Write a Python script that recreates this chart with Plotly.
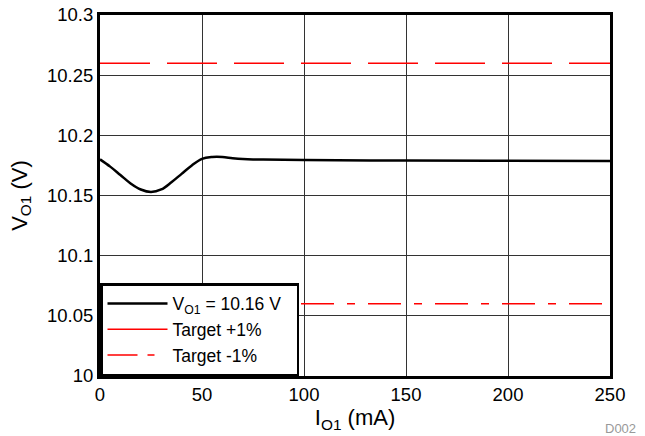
import plotly.graph_objects as go

# Data
current_ma = [0, 5, 10, 15, 20, 25, 30, 35, 40, 45, 50, 55, 60, 65, 70, 75, 80, 100, 150, 200, 250]
vo1 = [10.180, 10.174, 10.167, 10.160, 10.155, 10.153, 10.155, 10.161, 10.168, 10.175,
       10.1805, 10.182, 10.182, 10.181, 10.1803, 10.180, 10.180, 10.1795, 10.179, 10.1788, 10.1787]
x_range = [0, 250]
target_plus = 10.26
target_minus = 10.06
x_ticks = [0, 50, 100, 150, 200, 250]
y_ticks = [10, 10.05, 10.1, 10.15, 10.2, 10.25, 10.3]
y_tick_labels = ["10", "10.05", "10.1", "10.15", "10.2", "10.25", "10.3"]

FONT = "Liberation Sans, Arial, sans-serif"
FS = 18.5
LFS = 17.5

fig = go.Figure()
fig.add_trace(go.Scatter(x=current_ma, y=vo1, mode="lines", line=dict(color="black", width=2.5, shape="spline"),
                         name="V<sub>O1</sub> = 10.16 V&nbsp;&nbsp;"))
fig.add_trace(go.Scatter(x=x_range, y=[target_plus, target_plus], mode="lines",
                         line=dict(color="#ff0000", width=1.5, dash="50px,17px"), showlegend=False))
fig.add_trace(go.Scatter(x=x_range, y=[target_minus, target_minus], mode="lines",
                         line=dict(color="#ff0000", width=1.5, dash="33px,13px,8px,13px"), showlegend=False))
# legend entries
fig.add_trace(go.Scatter(x=[None], y=[None], mode="lines", line=dict(color="#ff0000", width=1.5),
                         name="Target +1%"))
fig.add_trace(go.Scatter(x=[None], y=[None], mode="lines", line=dict(color="#ff0000", width=1.5, dash="30px,10px,7px"),
                         name="Target -1%"))

fig.update_layout(
    width=645, height=436,
    margin=dict(l=100, r=35, t=15, b=60, autoexpand=False),
    paper_bgcolor="white", plot_bgcolor="white",
    font=dict(family=FONT, size=FS, color="black"),
    showlegend=True,
    legend=dict(x=0, y=0, xanchor="left", yanchor="bottom", bgcolor="white",
                bordercolor="black", borderwidth=2.5, font=dict(size=LFS),
                itemwidth=60, tracegroupgap=0),
    xaxis=dict(range=x_range, tickvals=x_ticks, showgrid=True, gridcolor="#333333", gridwidth=1,
               showline=True, linecolor="black", linewidth=3, mirror=True, ticks="", zeroline=False,
               automargin=False,
               title=dict(text="I<sub>O1</sub> (mA)", standoff=6), tickfont=dict(size=FS)),
    yaxis=dict(range=[10, 10.3], tickvals=y_ticks, ticktext=y_tick_labels, showgrid=True,
               gridcolor="#333333", gridwidth=1, showline=True, linecolor="black", linewidth=3,
               mirror=True, ticks="", zeroline=False, automargin=False,
               title=dict(text="V<sub>O1</sub> (V)", standoff=14), tickfont=dict(size=FS)),
    annotations=[dict(text="D002", x=1.055, y=-0.145, xref="paper", yref="paper",
                      xanchor="right", yanchor="middle", showarrow=False,
                      font=dict(size=13, color="#999999"))],
)

fig.write_html("out.html", config={"displayModeBar": False},
               post_script="document.body.style.margin='0';document.body.style.padding='0';")
